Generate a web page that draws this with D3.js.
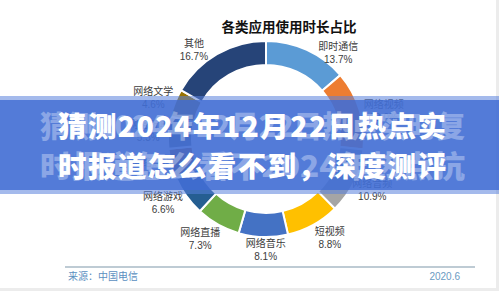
<!DOCTYPE html>
<html><head><meta charset="utf-8">
<script src="https://cdn.jsdelivr.net/npm/d3@7"></script>
<style>
html,body{margin:0;padding:0;background:#fff;}
svg{display:block;}
</style></head>
<body>
<svg id="c" width="499" height="291"></svg>
<script>
// ---- data ----
const categories = ["即时通信","网络视频","网络音频","短视频","网络音乐","网络直播","网络游戏","网络购物","网络新闻","网络文学","其他"];
const shares = [13.7, 13.0, 10.9, 8.8, 8.1, 7.3, 6.6, 5.0, 5.3, 4.6, 16.7];
const chartTitle = "各类应用使用时长占比";
const sourceText = "来源：中国电信";
const dateText = "2020.6";
const bannerLines = ["猜测2024年12月22日热点实", "时报道怎么看不到，深度测评"];
const ghostLines = ["猜测2024年12月22日热点实时复", "时报道怎么看不2024年热点抗"];

// ---- styles / layout ----
const palette = ["#5B9BD5","#ED7D31","#A5A5A5","#FFC000","#4472C4","#70AD47","#255E91","#9E480E","#636363","#997300","#264478"];
const labelNudge = {"即时通信":[23,21],"网络视频":[5,7],"短视频":[7,-4],"网络音乐":[3,-7],"网络直播":[-8,-3],"网络游戏":[-7,-5],"网络文学":[-3,2],"其他":[-13,13]};
const W = 499, H = 291, cx = 266, cy = 139, rOuter = 98, rInner = 74, rLabel = 118;
const font = "'Noto Sans CJK SC','Noto Sans',sans-serif";

const svg = d3.select("#c");
svg.append("rect").attr("width", W).attr("height", H).attr("fill", "#fff");

const data = categories.map((c, i) => ({name: c, value: shares[i], color: palette[i]}));
const pie = d3.pie().value(d => d.value).sort(null);
const arcs = pie(data);
const arc = d3.arc().innerRadius(rInner).outerRadius(rOuter);
const labelArc = d3.arc().innerRadius(rLabel).outerRadius(rLabel);

const g = svg.append("g").attr("transform", `translate(${cx},${cy})`);
g.selectAll("path").data(arcs).join("path")
  .attr("d", arc).attr("fill", d => d.data.color)
  .attr("stroke", "#fff").attr("stroke-width", 2);

const lab = g.selectAll("g.lab").data(arcs).join("g").attr("class", "lab")
  .attr("transform", d => {
    const [x, y] = labelArc.centroid(d);
    const n = labelNudge[d.data.name] || [0, 0];
    return `translate(${x + n[0]},${y + n[1]})`;
  });
lab.append("text").attr("y", -3).attr("text-anchor", "middle")
  .attr("font-family", font).attr("font-size", 10).attr("fill", "#3c3c3c")
  .text(d => d.data.name);
lab.append("text").attr("y", 10).attr("text-anchor", "middle")
  .attr("font-family", "'Liberation Sans',Arial,sans-serif").attr("font-size", 10).attr("fill", "#3c3c3c")
  .text(d => d3.format(".1f")(d.data.value) + "%");

// title
svg.append("text").attr("x", 289).attr("y", 32).attr("text-anchor", "middle")
  .attr("font-family", font).attr("font-weight", 700).attr("font-size", 13.5).attr("fill", "#111")
  .text(chartTitle);

// footer
svg.append("line").attr("x1", 65).attr("x2", 475).attr("y1", 267).attr("y2", 267)
  .attr("stroke", "#a9bac6").attr("stroke-width", 1.5);
svg.append("text").attr("x", 68).attr("y", 280).attr("font-family", font).attr("font-size", 10)
  .attr("fill", "#5b8fbf").text(sourceText);
svg.append("text").attr("x", 460).attr("y", 280).attr("text-anchor", "end")
  .attr("font-family", "'Liberation Sans',Arial,sans-serif").attr("font-size", 10)
  .attr("fill", "#6a9ac2").text(dateText);
svg.append("rect").attr("x", 0).attr("y", 288).attr("width", W).attr("height", 3).attr("fill", "#ececec");
svg.append("rect").attr("x", 496).attr("y", 0).attr("width", 3).attr("height", H).attr("fill", "#ececec");

// banner overlay
svg.append("rect").attr("x", 0).attr("y", 96).attr("width", W).attr("height", 98)
  .attr("fill", "#5a82dc").attr("opacity", 0.55);
svg.append("rect").attr("x", 0).attr("y", 100).attr("width", W).attr("height", 90)
  .attr("fill", "#3f6bd3").attr("opacity", 0.8);
ghostLines.forEach((t, i) => {
  svg.append("text").attr("x", 40).attr("y", 137 + i * 40)
    .attr("textLength", 425).attr("lengthAdjust", "spacingAndGlyphs")
    .attr("font-family", font).attr("font-weight", 900).attr("font-size", 30)
    .attr("fill", "#dfe8fb").attr("opacity", 0.4).text(t);
});
bannerLines.forEach((t, i) => {
  svg.append("text").attr("x", 58).attr("y", 137 + i * 40)
    .attr("textLength", 388).attr("lengthAdjust", "spacing")
    .attr("font-family", font).attr("font-weight", 900).attr("font-size", 28.5)
    .attr("fill", "#fff").text(t);
});
</script>
</body></html>
